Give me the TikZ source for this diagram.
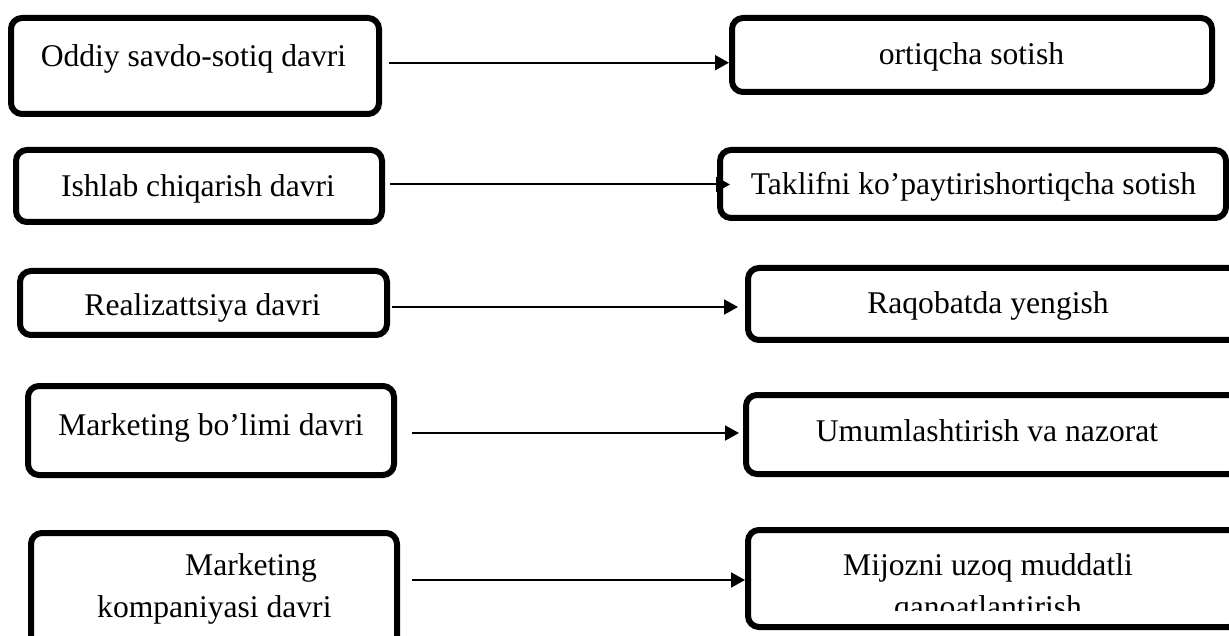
\documentclass[tikz,border=0pt]{standalone}
\usepackage{fontspec}
\setmainfont{Liberation Serif}
\usetikzlibrary{arrows.meta}

\tikzset{
  stagebox/.style={draw=black, line width=6pt, rounded corners=11pt, fill=white,
    inner sep=0pt, minimum width=#1},
  stagetext/.style={inner sep=0pt, anchor=base, font=\fontsize{31.6}{42}\selectfont, text=black},
  flow/.style={line width=2pt, -{Triangle[length=14pt,width=15pt]}}
}

\begin{document}
\begin{tikzpicture}[x=1pt,y=-1pt]
  \clip (0,0) rectangle (1229,636);
  \fill[white] (0,0) rectangle (1229,636);

  % left column: stages
  \node[stagebox=368pt, minimum height=96pt] (l1) at (195,66) {};
  \node[stagebox=366pt, minimum height=72pt] (l2) at (199,186) {};
  \node[stagebox=367pt, minimum height=64pt] (l3) at (203.5,303) {};
  \node[stagebox=366pt, minimum height=89pt] (l4) at (211,430.5) {};
  \node[stagebox=366pt, minimum height=117pt] (l5) at (214,591.5) {};

  % right column: goals
  \node[stagebox=480pt, minimum height=74pt] (r1) at (972,55) {};
  \node[stagebox=506pt, minimum height=68pt] (r2) at (973,184) {};
  \node[stagebox=492pt, minimum height=72pt] (r3) at (994,304) {};
  \node[stagebox=494pt, minimum height=79pt] (r4) at (993,434.5) {};
  \node[stagebox=492pt, minimum height=97pt] (r5) at (994,578.5) {};

  % labels (multi-line labels are placed by the baseline of their last line)
  \node[stagetext] (t1) at (193.5,67) {Oddiy savdo-sotiq davri};
  \node[stagetext] (t2) at (198,197) {Ishlab chiqarish davri};
  \node[stagetext] (t3) at (202.5,316) {Realizattsiya davri};
  \node[stagetext] (t4) at (211,435) {Marketing bo’limi davri};
  \node[stagetext, anchor=base west, align=left] (t5) at (97,617)
    {\hspace*{88pt}Marketing\\kompaniyasi davri};

  \node[stagetext] (u1) at (971.5,65) {ortiqcha sotish};
  \node[stagetext] (u2) at (973.5,195) {Taklifni ko’paytirishortiqcha sotish};
  \node[stagetext] (u3) at (988,314) {Raqobatda yengish};
  \node[stagetext] (u4) at (987,441) {Umumlashtirish va nazorat};
  \begin{scope}
    \clip (748,530) rectangle (1229,610);
    \node[stagetext, align=center] (u5) at (988,617)
      {Mijozni uzoq muddatli\\qanoatlantirish};
  \end{scope}

  % connectors
  \draw[flow, shorten <=7pt] (l1.east |- 0,62.7) -- (r1.west |- 0,62.7);
  \draw[flow, shorten <=5pt, shorten >=-13pt] (l2.east |- 0,184.5) -- (r2.west |- 0,184.5);
  \draw[flow, shorten <=2pt, shorten >=7pt] (l3.east |- 0,307) -- (r3.west |- 0,307);
  \draw[flow, shorten <=15pt, shorten >=4pt] (l4.east |- 0,433) -- (r4.west |- 0,433);
  \draw[flow, shorten <=12pt] (l5.east |- 0,580) -- (r5.west |- 0,580);
\end{tikzpicture}
\end{document}
